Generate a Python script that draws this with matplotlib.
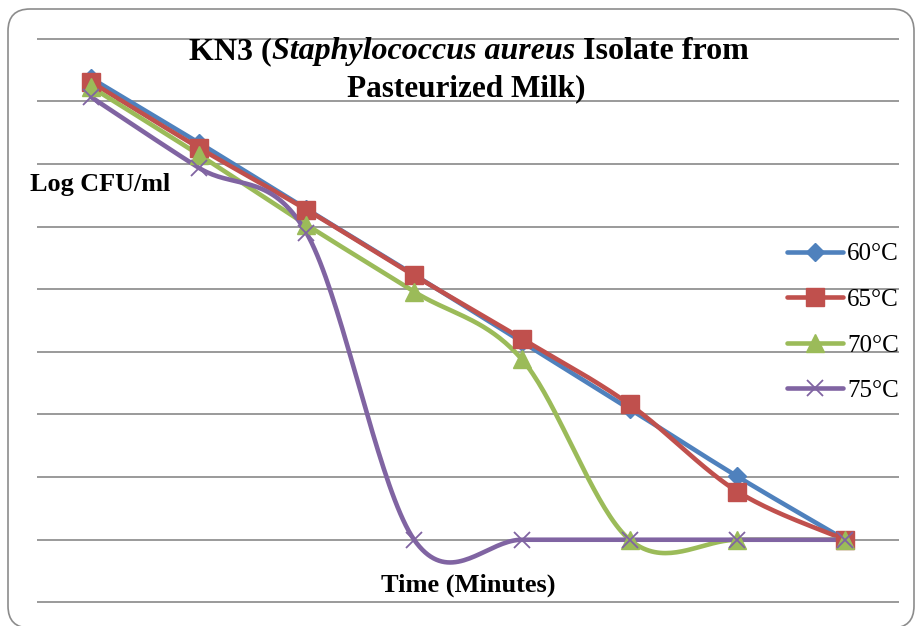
import numpy as np
import matplotlib.pyplot as plt
from matplotlib.patches import FancyBboxPatch

# data (log CFU/ml at each sampling step)
steps = [0, 1, 2, 3, 4, 5, 6, 7]
temp_60 = [8.37, 7.34, 6.28, 5.23, 4.16, 3.09, 2.01, 1.0]
temp_65 = [8.31, 7.26, 6.27, 5.22, 4.21, 3.16, 1.77, 1.0]
temp_70 = [8.23, 7.15, 6.03, 4.96, 3.88, 1.0, 1.0, 1.0]
temp_75 = [8.07, 6.94, 5.90, 1.0, 1.0, 1.0, 1.0, 1.0]
labels = ["60°C", "65°C", "70°C", "75°C"]
colors = ["#4F81BD", "#C0504D", "#9BBB59", "#8064A2"]
markers = ["D", "s", "^", "x"]
msizes = [9, 13, 13, 11]

W, H = 918, 626


def smooth(x, y, n=40):
    # excel-like smoothed line (catmull-rom as cubic bezier)
    pts = np.column_stack([x, y]).astype(float)
    p = np.vstack([pts[0], pts, pts[-1]])
    t = np.linspace(0, 1, n)[:, None]
    out = []
    for i in range(1, len(p) - 2):
        p0, p1, p2, p3 = p[i - 1], p[i], p[i + 1], p[i + 2]
        c1 = p1 + (p2 - p0) / 6
        c2 = p2 - (p3 - p1) / 6
        seg = (1 - t) ** 3 * p1 + 3 * (1 - t) ** 2 * t * c1 + 3 * (1 - t) * t ** 2 * c2 + t ** 3 * p2
        out.append(seg)
    s = np.vstack(out)
    return s[:, 0], s[:, 1]


fig = plt.figure(figsize=(W / 100, H / 100), dpi=100)
ax = fig.add_axes([37 / W, (H - 603) / H, (899 - 37) / W, (603 - 38) / H])

series = [temp_60, temp_65, temp_70, temp_75]
for vals, lab, c, m, ms in zip(series, labels, colors, markers, msizes):
    sx, sy = smooth(steps, vals)
    ax.plot(sx, sy, color=c, lw=3.3, solid_capstyle="round", zorder=3)
    mew = 1.3 if m == "x" else 1
    ax.plot(steps, vals, ls="none", marker=m, ms=ms, color=c, mew=mew, zorder=4)
    # legend proxy
    ax.plot([], [], color=c, lw=3.3, marker=m, ms=ms, mew=mew, label=lab,
            solid_capstyle="round")

ax.set_xlim(-0.5, 7.5)
ax.set_ylim(-0.01, 9.01)
ax.set_yticks(range(10))
ax.set_xticks([])
ax.tick_params(left=False, labelleft=False)
ax.yaxis.grid(True, color="#9A9A9A", lw=1.4)
ax.set_axisbelow(True)
for s in ax.spines.values():
    s.set_visible(False)

leg = ax.legend(loc="upper left", bbox_to_anchor=(787 / W, 1 - 243 / H),
                bbox_transform=fig.transFigure, frameon=False, numpoints=1,
                prop={"family": "Liberation Serif", "size": 18},
                handlelength=2.25, handletextpad=0.15, labelspacing=0.92,
                borderpad=0, borderaxespad=0)

# title, with italic species name
fig.canvas.draw()
r = fig.canvas.get_renderer()
parts = [("KN3 (", "normal"), ("Staphylococcus aureus", "italic"), (" Isolate from", "normal")]
texts = []
for s, st in parts:
    t = fig.text(0, 0, s, family="Liberation Serif", weight="bold", style=st,
                 fontsize=23, va="baseline", ha="left")
    texts.append(t)
widths = [t.get_window_extent(r).width for t in texts]
x0 = 469 - sum(widths) / 2
for t, w in zip(texts, widths):
    t.set_position((x0 / W, 1 - 59 / H))
    x0 += w
fig.text(466 / W, 1 - 96 / H, "Pasteurized Milk)", family="Liberation Serif",
         weight="bold", fontsize=22.5, va="baseline", ha="center")

fig.text(30 / W, 1 - 191 / H, "Log CFU/ml", family="Liberation Serif",
         weight="bold", fontsize=18.8, va="baseline", ha="left")
fig.text(468 / W, 1 - 592 / H, "Time (Minutes)", family="Liberation Serif",
         weight="bold", fontsize=19, va="baseline", ha="center")

# rounded chart border
box = FancyBboxPatch((8 / 100, -0.02), (914 - 8) / 100, (H - 9) / 100 + 0.02,
                     boxstyle="round,pad=0,rounding_size=0.22",
                     transform=fig.dpi_scale_trans, fill=False,
                     edgecolor="#8C8C8C", lw=1.2)
fig.patches.append(box)

fig.savefig("out.png", dpi=100)
